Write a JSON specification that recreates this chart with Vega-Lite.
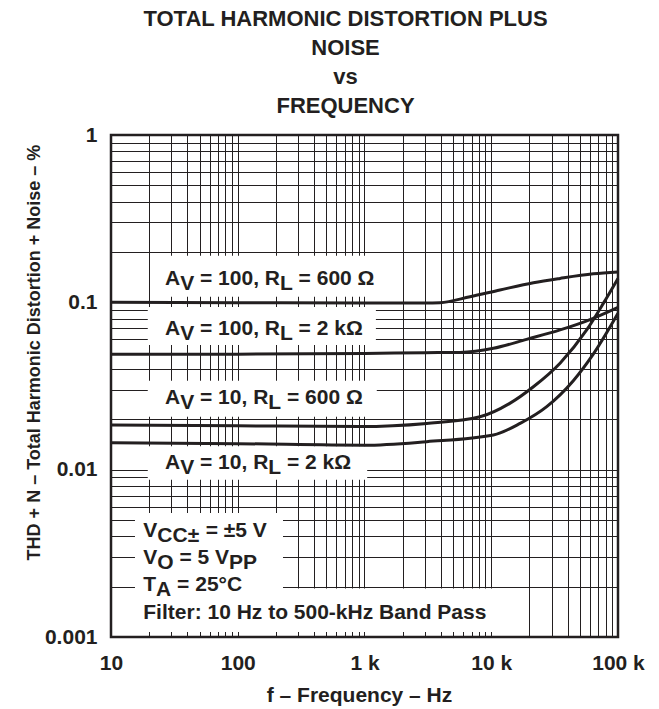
{
  "$schema": "https://vega.github.io/schema/vega-lite/v6.json",
  "width": 507,
  "height": 502,
  "autosize": {"type": "none"},
  "padding": {"left": 111, "top": 135, "right": 41, "bottom": 72},
  "background": "white",
  "config": {
    "font": "Liberation Sans",
    "view": {"stroke": null},
    "axis": {
      "labelFont": "Liberation Sans", "labelFontWeight": "bold", "labelFontSize": 21, "labelColor": "#231f20",
      "titleFont": "Liberation Sans", "titleFontWeight": "bold", "titleColor": "#231f20",
      "grid": true, "gridColor": "#231f20", "gridWidth": 1, "gridOpacity": 1,
      "ticks": false, "tickSize": 0, "domain": false, "labelOverlap": false, "labelFlush": false, "labelBound": false
    }
  },
  "title": {
    "text": ["TOTAL HARMONIC DISTORTION PLUS", "NOISE", "vs", "FREQUENCY"],
    "font": "Liberation Sans", "fontSize": 22, "fontWeight": "bold", "color": "#231f20",
    "lineHeight": 29, "anchor": "middle", "dx": -19, "offset": 6
  },
  "datasets": {
    "curves": [
      {"s": "Av=100, RL=600", "f": 10, "v": 0.1},
      {"s": "Av=100, RL=600", "f": 100, "v": 0.0995},
      {"s": "Av=100, RL=600", "f": 1000, "v": 0.099},
      {"s": "Av=100, RL=600", "f": 3000, "v": 0.099},
      {"s": "Av=100, RL=600", "f": 3940, "v": 0.0995},
      {"s": "Av=100, RL=600", "f": 6800, "v": 0.108},
      {"s": "Av=100, RL=600", "f": 11700, "v": 0.1185},
      {"s": "Av=100, RL=600", "f": 21500, "v": 0.131},
      {"s": "Av=100, RL=600", "f": 34900, "v": 0.139},
      {"s": "Av=100, RL=600", "f": 63800, "v": 0.148},
      {"s": "Av=100, RL=600", "f": 100000, "v": 0.152},
      {"s": "Av=100, RL=2k", "f": 10, "v": 0.049},
      {"s": "Av=100, RL=2k", "f": 100, "v": 0.049},
      {"s": "Av=100, RL=2k", "f": 1000, "v": 0.0495},
      {"s": "Av=100, RL=2k", "f": 3000, "v": 0.05},
      {"s": "Av=100, RL=2k", "f": 5660, "v": 0.0502},
      {"s": "Av=100, RL=2k", "f": 10400, "v": 0.0531},
      {"s": "Av=100, RL=2k", "f": 19000, "v": 0.0601},
      {"s": "Av=100, RL=2k", "f": 34900, "v": 0.0684},
      {"s": "Av=100, RL=2k", "f": 63800, "v": 0.0803},
      {"s": "Av=100, RL=2k", "f": 100000, "v": 0.0933},
      {"s": "Av=10, RL=600", "f": 10, "v": 0.0185},
      {"s": "Av=10, RL=600", "f": 100, "v": 0.0183},
      {"s": "Av=10, RL=600", "f": 921, "v": 0.0181},
      {"s": "Av=10, RL=600", "f": 3100, "v": 0.0189},
      {"s": "Av=10, RL=600", "f": 8150, "v": 0.0207},
      {"s": "Av=10, RL=600", "f": 14000, "v": 0.0249},
      {"s": "Av=10, RL=600", "f": 21500, "v": 0.0313},
      {"s": "Av=10, RL=600", "f": 34900, "v": 0.0433},
      {"s": "Av=10, RL=600", "f": 56600, "v": 0.0684},
      {"s": "Av=10, RL=600", "f": 76600, "v": 0.0986},
      {"s": "Av=10, RL=600", "f": 100000, "v": 0.139},
      {"s": "Av=10, RL=2k", "f": 10, "v": 0.0145},
      {"s": "Av=10, RL=2k", "f": 100, "v": 0.0143},
      {"s": "Av=10, RL=2k", "f": 1000, "v": 0.014},
      {"s": "Av=10, RL=2k", "f": 3100, "v": 0.0147},
      {"s": "Av=10, RL=2k", "f": 10400, "v": 0.0161},
      {"s": "Av=10, RL=2k", "f": 16900, "v": 0.0189},
      {"s": "Av=10, RL=2k", "f": 27400, "v": 0.0238},
      {"s": "Av=10, RL=2k", "f": 44400, "v": 0.034},
      {"s": "Av=10, RL=2k", "f": 63800, "v": 0.049},
      {"s": "Av=10, RL=2k", "f": 100000, "v": 0.086}
    ],
    "boxes": [
      {"f": 21.4, "f2": 1320, "v": 0.108, "v2": 0.19},
      {"f": 19.5, "f2": 1230, "v": 0.0556, "v2": 0.0938},
      {"f": 19.5, "f2": 1250, "v": 0.0207, "v2": 0.034},
      {"f": 19.5, "f2": 1050, "v": 0.0087, "v2": 0.0138},
      {"f": 15.46, "f2": 227.5, "v": 0.00185, "v2": 0.0055},
      {"f": 10.25, "f2": 12000, "v": 0.00107, "v2": 0.00195}
    ],
    "frame": [
      {"f": 10, "f2": 100000, "v": 0.001, "v2": 1}
    ],
    "textMain": [
      {"t": "A", "f": 26.67, "v": 0.1269},
      {"t": "= 100, R", "f": 50.37, "v": 0.1269},
      {"t": "= 600 Ω", "f": 302.1, "v": 0.1269},
      {"t": "A", "f": 26.67, "v": 0.06379},
      {"t": "= 100, R", "f": 50.37, "v": 0.06379},
      {"t": "= 2 kΩ", "f": 302.1, "v": 0.06379},
      {"t": "A", "f": 26.67, "v": 0.02485},
      {"t": "= 10, R", "f": 50.37, "v": 0.02485},
      {"t": "= 600 Ω", "f": 244.3, "v": 0.02485},
      {"t": "A", "f": 26.67, "v": 0.01016},
      {"t": "= 10, R", "f": 50.37, "v": 0.01016},
      {"t": "= 2 kΩ", "f": 244.3, "v": 0.01016},
      {"t": "V", "f": 17.98, "v": 0.003959},
      {"t": "= ±5 V", "f": 55.86, "v": 0.003959},
      {"t": "V", "f": 17.98, "v": 0.00273},
      {"t": "= 5 V", "f": 34.7, "v": 0.00273},
      {"t": "T", "f": 17.98, "v": 0.001883},
      {"t": "= 25°C", "f": 33.23, "v": 0.001883},
      {"t": "Filter: 10 Hz to 500-kHz Band Pass", "f": 17.98, "v": 0.001281}
    ],
    "textSub": [
      {"t": "V", "f": 35.16, "v": 0.1269},
      {"t": "L", "f": 215.4, "v": 0.1269},
      {"t": "V", "f": 35.16, "v": 0.06379},
      {"t": "L", "f": 215.4, "v": 0.06379},
      {"t": "V", "f": 35.16, "v": 0.02485},
      {"t": "L", "f": 174.2, "v": 0.02485},
      {"t": "V", "f": 35.16, "v": 0.01016},
      {"t": "L", "f": 174.2, "v": 0.01016},
      {"t": "CC±", "f": 23.19, "v": 0.003959},
      {"t": "O", "f": 23.19, "v": 0.00273},
      {"t": "PP", "f": 85.45, "v": 0.00273},
      {"t": "A", "f": 22.69, "v": 0.001883}
    ]
  },
  "encoding": {
    "x": {
      "field": "f", "type": "quantitative",
      "scale": {"type": "log", "domain": [10, 100000], "nice": false},
      "axis": {
        "title": "f – Frequency – Hz", "titleFontSize": 21, "titleX": 248, "titleY": 58, "titleBaseline": "middle",
        "labelPadding": 15, "labelBaseline": "top",
        "values": [10,20,30,40,50,60,70,80,90,100,200,300,400,500,600,700,800,900,1000,2000,3000,4000,5000,6000,7000,8000,9000,10000,20000,30000,40000,50000,60000,70000,80000,90000,100000],
        "labelExpr": "datum.value == 10 ? '10' : datum.value == 100 ? '100' : datum.value == 1000 ? '1 k' : datum.value == 10000 ? '10 k' : datum.value == 100000 ? '100 k' : ''"
      }
    },
    "y": {
      "field": "v", "type": "quantitative",
      "scale": {"type": "log", "domain": [0.001, 1], "nice": false},
      "axis": {
        "title": "THD + N – Total Harmonic Distortion + Noise – %", "titleFontSize": 18,
        "titleX": -77, "titleY": 217, "titleAlign": "center", "titleBaseline": "middle", "titleAngle": 270,
        "labelPadding": 14,
        "values": [0.001,0.002,0.003,0.004,0.005,0.006,0.007,0.008,0.009,0.01,0.02,0.03,0.04,0.05,0.06,0.07,0.08,0.09,0.1,0.2,0.3,0.4,0.5,0.6,0.7,0.8,0.9,1],
        "labelExpr": "datum.value == 1 ? '1' : datum.value == 0.1 ? '0.1' : datum.value == 0.01 ? '0.01' : datum.value == 0.001 ? '0.001' : ''"
      }
    }
  },
  "layer": [
    {
      "data": {"name": "boxes"},
      "mark": {"type": "rect", "fill": "white", "stroke": null, "clip": false},
      "encoding": {"x2": {"field": "f2"}, "y2": {"field": "v2"}}
    },
    {
      "data": {"name": "curves"},
      "mark": {"type": "line", "color": "#231f20", "strokeWidth": 3, "interpolate": "monotone"},
      "encoding": {"detail": {"field": "s"}}
    },
    {
      "data": {"name": "textMain"},
      "mark": {"type": "text", "align": "left", "baseline": "alphabetic", "font": "Liberation Sans", "fontWeight": "bold", "fontSize": 21, "color": "#231f20"},
      "encoding": {"text": {"field": "t"}}
    },
    {
      "data": {"name": "textSub"},
      "mark": {"type": "text", "align": "left", "baseline": "alphabetic", "dy": 5, "font": "Liberation Sans", "fontWeight": "bold", "fontSize": 21, "color": "#231f20"},
      "encoding": {"text": {"field": "t"}}
    },
    {
      "data": {"name": "frame"},
      "mark": {"type": "rect", "fill": null, "fillOpacity": 0, "stroke": "#231f20", "strokeWidth": 2.5},
      "encoding": {"x2": {"field": "f2"}, "y2": {"field": "v2"}}
    }
  ]
}
